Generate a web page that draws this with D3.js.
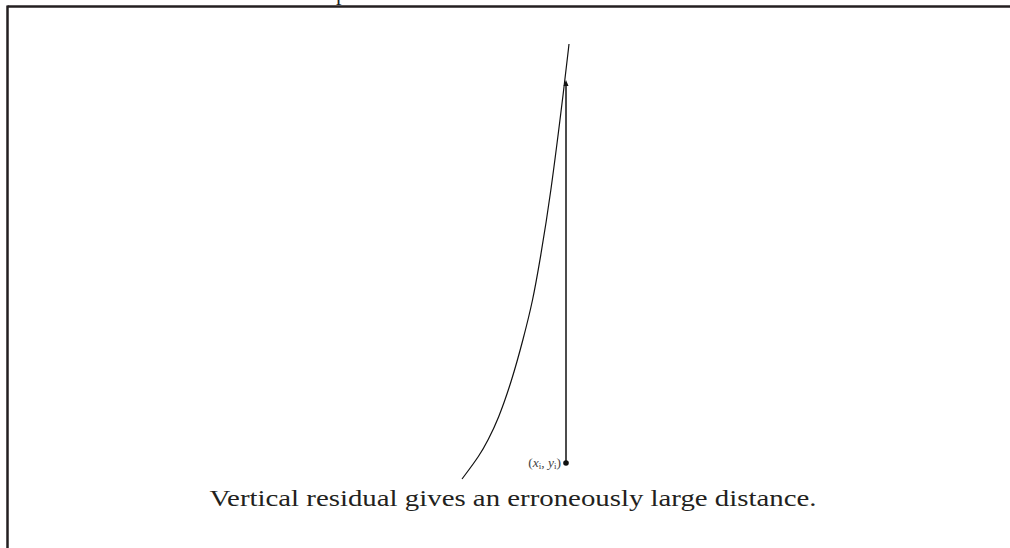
<!DOCTYPE html>
<html>
<head>
<meta charset="utf-8">
<script src="https://cdn.jsdelivr.net/npm/d3@7"></script>
<style>
  html, body { margin: 0; padding: 0; background: #fff; }
  svg { display: block; }
  text { font-family: "Liberation Serif", "Times New Roman", serif; }
</style>
</head>
<body>
<svg id="chart"></svg>
<script>
var width = 1010;
var height = 548;

// curve (data units)
var curveX = [4.52, 4.70, 4.78, 4.88, 5.02, 5.13, 5.23, 5.30, 5.40, 5.55, 5.59];
var curveY = [1.38, 1.86, 2.16, 2.56, 3.36, 4.16, 4.96, 5.76, 6.96, 9.36, 10.08];

// the observed point and its vertical residual up to the curve
var pointX = [5.56];
var pointY = [1.70];
var residualTop = [9.36];

var pointLabel = ["x", "i", ", ", "y", "i"];
var caption = "Vertical residual gives an erroneously large distance.";

var svg = d3.select("#chart")
    .attr("width", width)
    .attr("height", height);

var xscale = d3.scaleLinear().domain([0, 10]).range([10, 1010]);
var yscale = d3.scaleLinear().domain([0, 10]).range([548, 48]);

// frame
svg.append("line")
    .attr("x1", 7.5).attr("y1", 6.5).attr("x2", width).attr("y2", 6.5)
    .attr("stroke", "#231f20").attr("stroke-width", 2.5);
svg.append("line")
    .attr("x1", 7.5).attr("y1", 5.5).attr("x2", 7.5).attr("y2", height)
    .attr("stroke", "#231f20").attr("stroke-width", 2.5);

// clipped text at the very top
svg.append("text")
    .attr("x", 336).attr("y", 0)
    .attr("font-size", 22)
    .attr("fill", "#231f20")
    .text("p");

var pts = curveX.map((d, i) => [d, curveY[i]]);
var line = d3.line()
    .x(d => xscale(d[0]))
    .y(d => yscale(d[1]))
    .curve(d3.curveBasis);

svg.append("path")
    .attr("d", line(pts))
    .attr("fill", "none")
    .attr("stroke", "#111")
    .attr("stroke-width", 1.2);

// residual
var px = xscale(pointX[0]);
var py = yscale(pointY[0]);
var ty = yscale(residualTop[0]);

svg.append("line")
    .attr("x1", px).attr("y1", py)
    .attr("x2", px).attr("y2", ty + 4)
    .attr("stroke", "#111")
    .attr("stroke-width", 1.5);

svg.append("path")
    .attr("d", `M${px},${ty} L${px - 2.5},${ty + 6} L${px + 2.5},${ty + 6} Z`)
    .attr("fill", "#111");

svg.append("circle")
    .attr("cx", px).attr("cy", py)
    .attr("r", 2.8)
    .attr("fill", "#111");

// label (x_i, y_i)
var lab = svg.append("text")
    .attr("x", px - 5).attr("y", py + 4)
    .attr("text-anchor", "end")
    .attr("font-size", 13.5)
    .attr("fill", "#444");
lab.append("tspan").text("(");
lab.append("tspan").attr("font-style", "italic").text(pointLabel[0]);
lab.append("tspan").attr("font-size", 9).attr("dy", 2).text(pointLabel[1]);
lab.append("tspan").attr("dy", -2).text(pointLabel[2]);
lab.append("tspan").attr("font-style", "italic").text(pointLabel[3]);
lab.append("tspan").attr("font-size", 9).attr("dy", 2).text(pointLabel[4]);
lab.append("tspan").attr("dy", -2).text(")");

// caption
svg.append("text")
    .attr("x", 513).attr("y", 506)
    .attr("text-anchor", "middle")
    .attr("font-size", 24)
    .attr("fill", "#231f20")
    .attr("textLength", 607)
    .attr("lengthAdjust", "spacingAndGlyphs")
    .text(caption);
</script>
</body>
</html>
